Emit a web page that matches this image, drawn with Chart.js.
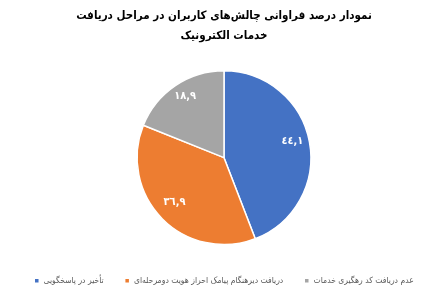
<!DOCTYPE html>
<html>
<head>
<meta charset="utf-8">
<script src="https://cdn.jsdelivr.net/npm/chart.js@4"></script>
<style>
  html, body { margin: 0; padding: 0; background: #fff; }
  #wrap { width: 448px; height: 301px; }
</style>
</head>
<body>
<div id="wrap"><canvas id="myChart"></canvas></div>
<script>
const labels = ['تأخیر در پاسخگویی', 'دریافت دیرهنگام پیامک احراز هویت دومرحله‌ای', 'عدم دریافت کد رهگیری خدمات'];
const values = [44.1, 36.9, 18.9];
const valueLabels = ['٤٤,١', '۳٦,۹', '۱۸,۹'];
const colors = ['#4472C4', '#ED7D31', '#A5A5A5'];

const FONT = '"DejaVu Sans Condensed", "DejaVu Sans", sans-serif';

const sliceLabels = {
    id: 'sliceLabels',
    afterDatasetsDraw(chart) {
        const c = chart.ctx;
        const arcs = chart.getDatasetMeta(0).data;
        c.save();
        c.fillStyle = '#fff';
        c.font = 'bold 11px ' + FONT;
        c.textAlign = 'center';
        c.textBaseline = 'middle';
        arcs.forEach((arc, i) => {
            const mid = (arc.startAngle + arc.endAngle) / 2;
            const r = arc.outerRadius * 0.8;
            c.fillText(valueLabels[i], arc.x + Math.cos(mid) * r, arc.y + Math.sin(mid) * r - 4);
        });
        c.restore();
    }
};

const ctx = document.getElementById('myChart');
const PLOT = new Chart(ctx, {
    type: 'pie',
    data: {
        labels: labels,
        datasets: [{
            data: values,
            backgroundColor: colors,
            borderColor: '#fff',
            borderWidth: 1.5
        }]
    },
    options: {
        responsive: true,
        maintainAspectRatio: false,
        animation: false,
        layout: { padding: { top: 0, bottom: 6 } },
        plugins: {
            title: {
                display: true,
                text: ['نمودار درصد فراوانی چالش‌های کاربران در مراحل دریافت', 'خدمات الکترونیک'],
                color: '#000',
                font: { family: FONT, size: 11.5, weight: 'bold', lineHeight: 1.74 },
                padding: { top: 6, bottom: 24 }
            },
            legend: {
                position: 'bottom',
                title: { display: true, text: '', font: { size: 1 }, padding: { top: 5, bottom: 4 } },
                labels: {
                    color: '#595959',
                    boxWidth: 5,
                    boxHeight: 5,
                    padding: 21,
                    font: { family: FONT, size: 8.5 }
                }
            },
            tooltip: { enabled: false }
        }
    },
    plugins: [sliceLabels]
});
</script>
</body>
</html>
